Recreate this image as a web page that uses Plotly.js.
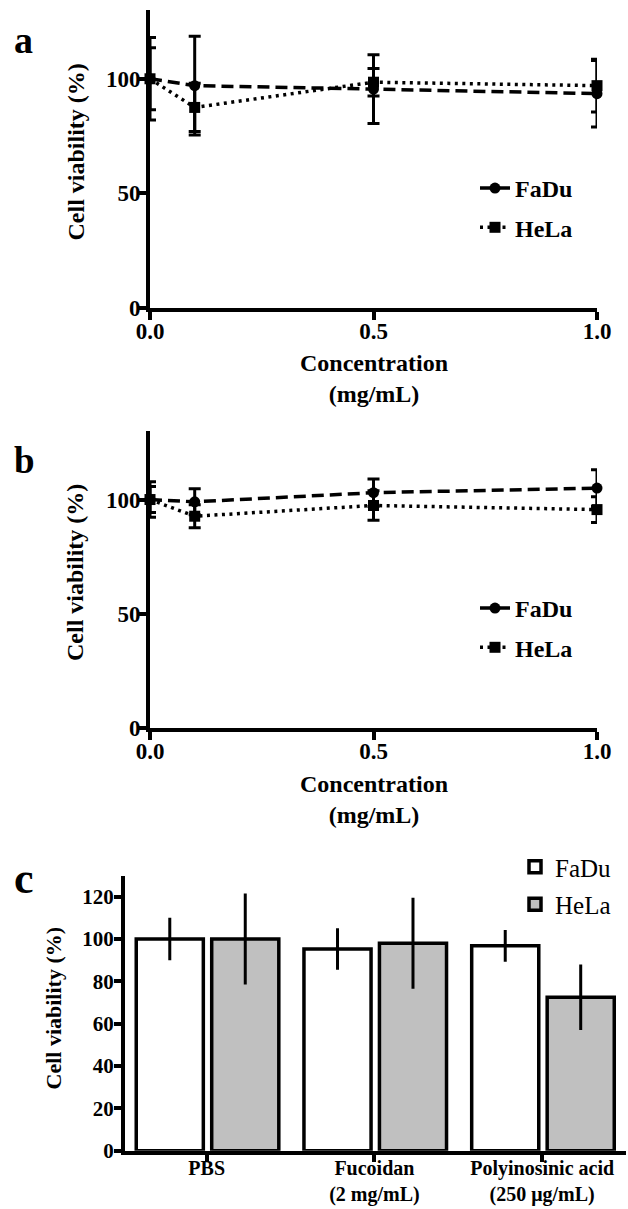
<!DOCTYPE html>
<html>
<head>
<meta charset="utf-8">
<script src="https://cdn.plot.ly/plotly-3.0.1.min.js"></script>
<style>html,body{margin:0;padding:0;background:#fff;}#chart{width:628px;height:1209px;}</style>
</head>
<body>
<div id="chart"></div>
<script>
// ---- Data ----
const concentrations = [0, 0.1, 0.5, 1.0];
const concTickVals = [0, 0.5, 1.0];
const concTickText = ['0.0', '0.5', '1.0'];

// Panel a
const aFaDu = [100, 97, 95.5, 93.5];
const aFaDuErr = [18, 21.5, 15, 14.5];
const aHeLa = [100, 87.5, 98.5, 97];
const aHeLaErr = [13.5, 10.5, 6, 11.5];

// Panel b
const bFaDu = [100, 99, 103, 105];
const bFaDuErr = [7.8, 5.7, 6, 8];
const bHeLa = [100, 92.7, 97.4, 95.6];
const bHeLaErr = [5.7, 5, 6.5, 5.6];

// Panel c
const treatments = ['PBS', 'Fucoidan<br>(2 mg/mL)', 'Polyinosinic acid<br>(250 μg/mL)'];
const cFaDu = [100, 95.3, 96.8];
const cFaDuErr = [10, 9.8, 7.5];
const cHeLa = [100, 98, 72.5];
const cHeLaErr = [21.5, 21.5, 15.5];

const seriesNames = ['FaDu', 'HeLa'];
const lineTicks = [0, 50, 100];
const barTicks = [0, 20, 40, 60, 80, 100, 120];

// ---- Helpers ----
const W = 628, H = 1209;
const px = v => v / W;
const py = v => 1 - v / H;
const FONT = 'Liberation Serif';
const bold = (size) => ({family: FONT, size: size, color: '#000', weight: 'bold'});

function lineTraces(xa, ya, leg, fadu, faduErr, hela, helaErr) {
  return [
    {x: concentrations, y: fadu, xaxis: xa, yaxis: ya, legend: leg, name: seriesNames[0],
     legendgroup: leg + 'f', type: 'scatter', mode: 'lines+markers', cliponaxis: false,
     line: {color: '#000', width: 3.5, dash: '12px,6px'},
     marker: {symbol: 'circle', size: 11, color: '#000'},
     error_y: {type: 'data', array: faduErr, visible: true, color: '#000', thickness: 3, width: 6}},
    {x: concentrations, y: hela, xaxis: xa, yaxis: ya, legend: leg, name: seriesNames[1],
     legendgroup: leg + 'h', type: 'scatter', mode: 'lines+markers', cliponaxis: false,
     line: {color: '#000', width: 3.5, dash: '3px,4.5px'},
     marker: {symbol: 'square', size: 11, color: '#000'},
     error_y: {type: 'data', array: helaErr, visible: true, color: '#000', thickness: 3, width: 6}}
  ];
}

const data = [
  ...lineTraces('x', 'y', 'legend', aFaDu, aFaDuErr, aHeLa, aHeLaErr),
  ...lineTraces('x2', 'y2', 'legend2', bFaDu, bFaDuErr, bHeLa, bHeLaErr),
  {x: treatments, y: cFaDu, xaxis: 'x3', yaxis: 'y3', legend: 'legend3', name: seriesNames[0],
   legendgroup: 'cf', type: 'bar', offset: -0.42, width: 0.40, cliponaxis: false,
   marker: {color: '#ffffff', line: {color: '#000', width: 3.5}},
   error_y: {type: 'data', array: cFaDuErr, visible: true, color: '#000', thickness: 3, width: 0}},
  {x: treatments, y: cHeLa, xaxis: 'x3', yaxis: 'y3', legend: 'legend3', name: seriesNames[1],
   legendgroup: 'ch', type: 'bar', offset: 0.03, width: 0.40, cliponaxis: false,
   marker: {color: '#c0c0c0', line: {color: '#000', width: 3.5}},
   error_y: {type: 'data', array: cHeLaErr, visible: true, color: '#000', thickness: 3, width: 0}}
];

const axBase = {showline: true, linecolor: '#000', linewidth: 4, ticks: 'outside', ticklen: 8,
  tickwidth: 4, tickcolor: '#000', showgrid: false, zeroline: false, fixedrange: true};

const layout = {
  width: W, height: H, margin: {l: 0, r: 0, t: 0, b: 0},
  paper_bgcolor: '#fff', plot_bgcolor: 'rgba(0,0,0,0)', showlegend: true,
  font: {family: FONT, color: '#000'},
  xaxis: {...axBase, domain: [px(150), px(597)], range: [0, 1], tickvals: concTickVals, ticktext: concTickText,
          tickfont: bold(23), ticklabelstandoff: -9, anchor: 'y'},
  yaxis: {...axBase, domain: [py(308), py(10)], range: [0, 130], tickvals: lineTicks, tickfont: bold(23),
          ticklen: 7, ticklabelstandoff: -6, anchor: 'x'},
  xaxis2: {...axBase, domain: [px(150), px(597)], range: [0, 1], tickvals: concTickVals, ticktext: concTickText,
          tickfont: bold(23), ticklabelstandoff: -9, anchor: 'y2'},
  yaxis2: {...axBase, domain: [py(728), py(431)], range: [0, 130], tickvals: lineTicks, tickfont: bold(23),
          ticklen: 7, ticklabelstandoff: -6, anchor: 'x2'},
  xaxis3: {...axBase, type: 'category', domain: [px(125), px(626)], range: [-0.487, 2.5],
          tickfont: bold(20), ticklen: 7, ticklabelstandoff: -11, anchor: 'y3'},
  yaxis3: {...axBase, domain: [py(1150.7), py(875.5)], range: [0, 130], tickvals: barTicks, tickfont: bold(21),
          ticklen: 7, ticklabelstandoff: -4, anchor: 'x3'},
  barmode: 'overlay',
  legend: {x: px(475), y: py(166), xanchor: 'left', yanchor: 'top', font: bold(24), bgcolor: 'rgba(0,0,0,0)',
           traceorder: 'grouped', tracegroupgap: 5},
  legend2: {x: px(475), y: py(586), xanchor: 'left', yanchor: 'top', font: bold(24), bgcolor: 'rgba(0,0,0,0)',
           traceorder: 'grouped', tracegroupgap: 5},
  legend3: {x: px(515), y: py(844), xanchor: 'left', yanchor: 'top',
           font: {family: FONT, size: 25, color: '#000'}, bgcolor: 'rgba(0,0,0,0)',
           traceorder: 'grouped', tracegroupgap: 2},
  annotations: [
    {text: 'a', x: px(12), y: py(40), xref: 'paper', yref: 'paper', xanchor: 'left', yanchor: 'middle',
     showarrow: false, font: bold(38)},
    {text: 'b', x: px(12), y: py(460), xref: 'paper', yref: 'paper', xanchor: 'left', yanchor: 'middle',
     showarrow: false, font: bold(37)},
    {text: 'c', x: px(12), y: py(878), xref: 'paper', yref: 'paper', xanchor: 'left', yanchor: 'middle',
     showarrow: false, font: bold(44)},
    {text: 'Cell viability (%)', x: px(75), y: py(152.5), xref: 'paper', yref: 'paper', textangle: -90,
     xanchor: 'center', yanchor: 'middle', showarrow: false, font: bold(24)},
    {text: 'Cell viability (%)', x: px(75), y: py(573), xref: 'paper', yref: 'paper', textangle: -90,
     xanchor: 'center', yanchor: 'middle', showarrow: false, font: bold(24)},
    {text: 'Cell viability (%)', x: px(53), y: py(1008.5), xref: 'paper', yref: 'paper', textangle: -90,
     xanchor: 'center', yanchor: 'middle', showarrow: false, font: bold(22)},
    {text: 'Concentration<br>(mg/mL)', x: px(374), y: py(378), xref: 'paper', yref: 'paper',
     xanchor: 'center', yanchor: 'middle', showarrow: false, font: bold(24)},
    {text: 'Concentration<br>(mg/mL)', x: px(374), y: py(799), xref: 'paper', yref: 'paper',
     xanchor: 'center', yanchor: 'middle', showarrow: false, font: bold(24)}
  ]
};

Plotly.newPlot('chart', data, layout, {staticPlot: true, displayModeBar: false});
</script>
</body>
</html>
